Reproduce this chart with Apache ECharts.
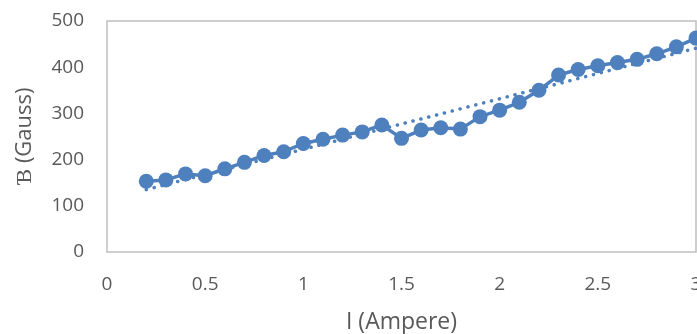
<!DOCTYPE html>
<html>
<head>
<meta charset="utf-8">
<script src="https://cdn.jsdelivr.net/npm/echarts@6/dist/echarts.min.js"></script>
<style>
  html, body { margin: 0; padding: 0; background: #fff; }
  #chart { width: 697px; height: 334px; }
</style>
</head>
<body>
<div id="chart"></div>
<script>
// current in amperes
var current = [0.2, 0.3, 0.4, 0.5, 0.6, 0.7, 0.8, 0.9, 1.0, 1.1,
               1.2, 1.3, 1.4, 1.5, 1.6, 1.7, 1.8, 1.9, 2.0, 2.1,
               2.2, 2.3, 2.4, 2.5, 2.6, 2.7, 2.8, 2.9, 3.0];
// field in gauss
var field = [153, 156, 169, 165, 180, 194, 209, 217, 235, 244,
             253, 260, 275, 246, 264, 269, 266, 293, 307, 324,
             350, 383, 395, 403, 410, 417, 429, 444, 463];
// linear trendline ends (dotted)
var trendX = [0.2, 3.0];
var trendY = [135, 441];

var blue = '#4e80bd';
var textColor = '#595959';
var font = 'Open Sans';

var points = current.map(function (x, i) { return [x, field[i]]; });
var trend = trendX.map(function (x, i) { return [x, trendY[i]]; });

var chart = echarts.init(document.getElementById('chart'));
chart.setOption({
    animation: false,
    grid: {
        left: 107,
        right: 1,
        top: 21,
        bottom: 82,
        outerBoundsMode: 'none',
        show: true,
        borderColor: '#bfbfbf',
        borderWidth: 1.5
    },
    xAxis: {
        type: 'value',
        min: 0,
        max: 3,
        interval: 0.5,
        name: 'I (Ampere)',
        nameLocation: 'middle',
        nameGap: 59,
        nameTextStyle: { color: textColor, fontSize: 23, fontFamily: font },
        axisLine: { show: false },
        axisTick: { show: false },
        splitLine: { show: false },
        axisLabel: { color: textColor, fontSize: 19, fontFamily: font, margin: 23 }
    },
    yAxis: {
        type: 'value',
        min: 0,
        max: 500,
        interval: 100,
        name: 'Ɓ (Gauss)',
        nameLocation: 'middle',
        nameGap: 71,
        nameTextStyle: { color: textColor, fontSize: 22, fontFamily: font },
        axisLine: { show: false },
        axisTick: { show: false },
        splitLine: { show: false },
        axisLabel: { color: textColor, fontSize: 19, fontFamily: font, margin: 23 }
    },
    series: [{
            name: 'B',
            type: 'line',
            data: points,
            symbol: 'circle',
            symbolSize: 15,
            showAllSymbol: true,
            clip: false,
            itemStyle: { color: blue },
            lineStyle: { color: blue, width: 3.5 }
        },
        {
            name: 'trend',
            type: 'line',
            data: trend,
            symbol: 'none',
            z: 3,
            lineStyle: { color: blue, width: 3.5, type: [0.1, 8], cap: 'round' }
        }
    ]
});
</script>
</body>
</html>
